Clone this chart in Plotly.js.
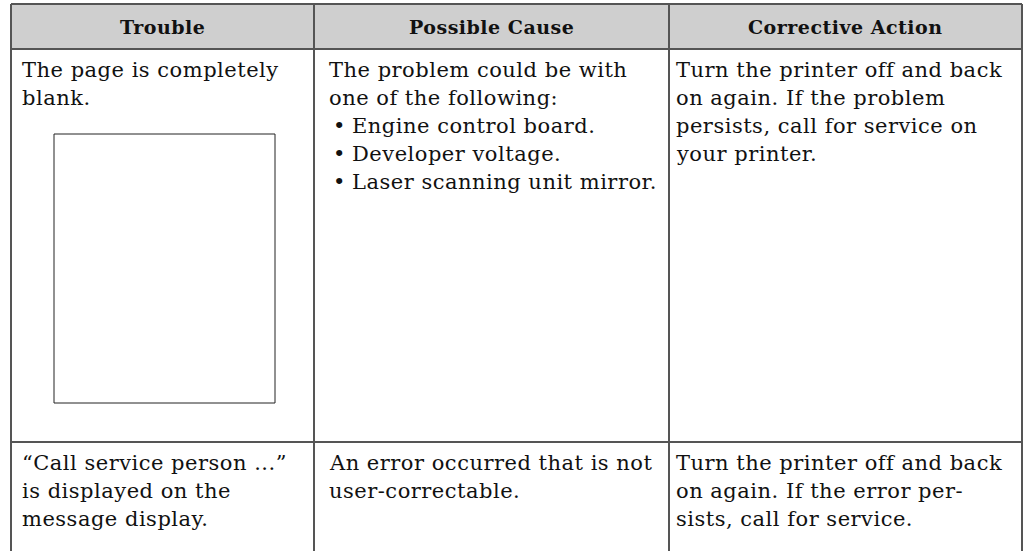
<!DOCTYPE html>
<html>
<head>
<meta charset="utf-8">
<script src="https://cdn.plot.ly/plotly-3.0.1.min.js"></script>
<style>
  html, body { margin: 0; padding: 0; background: #ffffff; }
  #chart { width: 1026px; height: 551px; }
  .annotation-text { letter-spacing: 0.5px; }
</style>
</head>
<body>
<div id="chart"></div>
<script>
// ---------- table content ----------
const headers = ['Trouble', 'Possible Cause', 'Corrective Action'];

const troubleRow1 = ['The page is completely', 'blank.'];
const troubleRow2 = ['\u201CCall service person ...\u201D', 'is displayed on the', 'message display.'];

const causeRow1Intro = ['The problem could be with', 'one of the following:'];
const causeRow1Bullets = ['Engine control board.', 'Developer voltage.', 'Laser scanning unit mirror.'];
const causeRow2 = ['An error occurred that is not', 'user-correctable.'];

const actionRow1 = ['Turn the printer off and back', 'on again. If the problem', 'persists, call for service on', 'your printer.'];
const actionRow2 = ['Turn the printer off and back', 'on again. If the error per-', 'sists, call for service.'];

// ---------- layout geometry (pixel space of the axes) ----------
const W = 1026, H = 551;
const colEdges = [11, 314, 669, 1022];
const rowEdges = [4, 49, 442, 551];
const textX = [20, 327, 674];
const bulletX = 331, bulletTextX = 350;
const lineH = 28;
const row1First = 70, row2First = 463;
const lineColor = '#555555';
const headerFill = '#cfcfcf';
const fontFam = 'DejaVu Serif, Liberation Serif, serif';
const headFontSize = 19;
const fontSize = 21;
const textColor = '#111111';

const shapes = [];
const annotations = [];

// header band
shapes.push({type: 'rect', xref: 'x', yref: 'y', x0: colEdges[0], x1: colEdges[3], y0: rowEdges[0], y1: rowEdges[1],
  fillcolor: headerFill, line: {width: 0}, layer: 'below'});

// horizontal rules
[rowEdges[0], rowEdges[1], rowEdges[2]].forEach(y => {
  shapes.push({type: 'line', xref: 'x', yref: 'y', x0: colEdges[0], x1: colEdges[3], y0: y, y1: y,
    line: {color: lineColor, width: 2}});
});
// vertical rules
colEdges.forEach(x => {
  shapes.push({type: 'line', xref: 'x', yref: 'y', x0: x, x1: x, y0: rowEdges[0], y1: H + 2,
    line: {color: lineColor, width: 2}});
});
// blank-page illustration
shapes.push({type: 'rect', xref: 'x', yref: 'y', x0: 54, x1: 275, y0: 134, y1: 403,
  fillcolor: 'rgba(0,0,0,0)', line: {color: '#222222', width: 1}});

function addLine(text, x, y, opts) {
  annotations.push(Object.assign({
    text: text, x: x, y: y, xref: 'x', yref: 'y', xanchor: 'left', yanchor: 'middle',
    showarrow: false, font: {family: fontFam, size: fontSize, color: textColor}
  }, opts || {}));
}
function addBlock(lines, x, y0) {
  lines.forEach((t, i) => addLine(t, x, y0 + i * lineH));
}

// headers
headers.forEach((h, i) => {
  addLine('<b>' + h + '</b>', (colEdges[i] + colEdges[i + 1]) / 2, (rowEdges[0] + rowEdges[1]) / 2,
    {xanchor: 'center', font: {family: fontFam, size: headFontSize, color: textColor}});
});

// row 1
addBlock(troubleRow1, textX[0], row1First);
addBlock(causeRow1Intro, textX[1], row1First);
causeRow1Bullets.forEach((t, i) => {
  const y = row1First + (causeRow1Intro.length + i) * lineH;
  addLine('\u2022', bulletX, y);
  addLine(t, bulletTextX, y);
});
addBlock(actionRow1, textX[2], row1First);

// row 2
addBlock(troubleRow2, textX[0], row2First);
addBlock(causeRow2, textX[1], row2First);
addBlock(actionRow2, textX[2], row2First);

const layout = {
  width: W, height: H,
  margin: {l: 0, r: 0, t: 0, b: 0, pad: 0},
  paper_bgcolor: '#ffffff', plot_bgcolor: '#ffffff',
  showlegend: false,
  xaxis: {range: [0, W], visible: false, fixedrange: true},
  yaxis: {range: [H, 0], visible: false, fixedrange: true},
  shapes: shapes,
  annotations: annotations
};

Plotly.newPlot('chart', [], layout, {staticPlot: true, displayModeBar: false});
</script>
</body>
</html>
